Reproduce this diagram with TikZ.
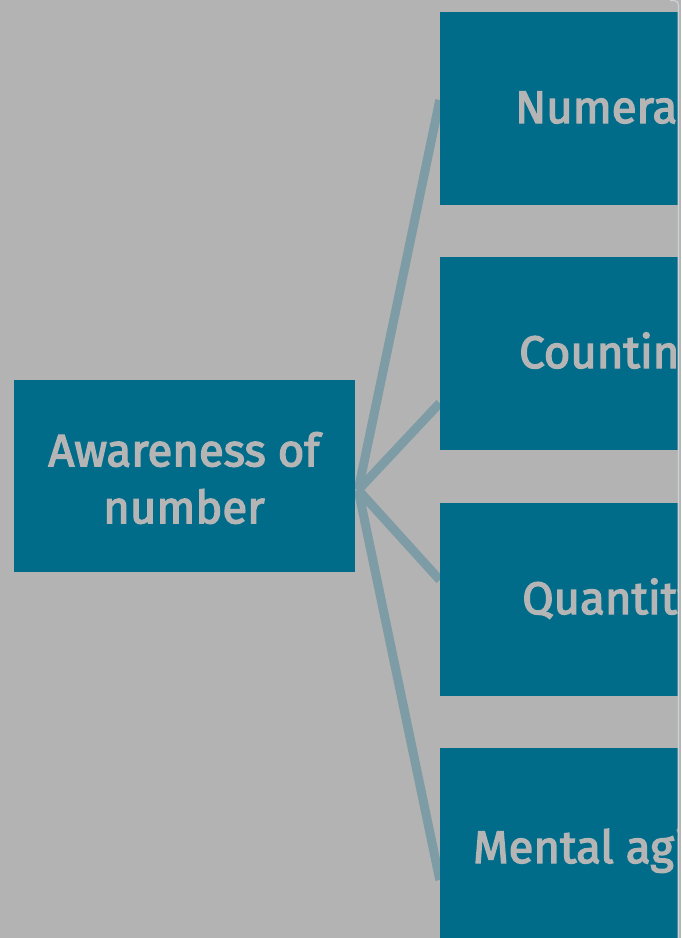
\documentclass[tikz,border=0pt]{standalone}
\usepackage{fontspec}
\setmainfont{Fira Sans}
\newfontfamily\lblfont{Fira Sans}[FakeBold=3]
\usetikzlibrary{calc}
\definecolor{bgc}{HTML}{B3B3B3}
\definecolor{boxteal}{HTML}{006C8A}
\definecolor{linkc}{HTML}{7E9CA6}
\definecolor{txtc}{HTML}{B5B5B5}
\definecolor{edgec}{HTML}{CCD3D6}
\pgfdeclarelayer{back}
\pgfdeclarelayer{lines}
\pgfsetlayers{back,lines,main}
\begin{document}
\begin{tikzpicture}[x=1pt,y=-1pt,
  box/.style={fill=boxteal, draw=none, inner sep=0pt, minimum width=360pt, minimum height=193pt},
  lbl/.style={text=txtc, font=\lblfont\fontsize{45.5}{57}\selectfont, inner sep=0pt},
  link/.style={draw=linkc, line width=9pt}]
\useasboundingbox (0,0) rectangle (681,938);
\begin{pgfonlayer}{back}
\fill[bgc] (0,0) rectangle (681,938);
\end{pgfonlayer}
\begin{scope}
\clip (0,0) rectangle (677.5,938);
\node[box, minimum width=341pt, minimum height=192pt] (root) at (184.5,476) {};
\node[box] (b1) at (620,108.5) {};
\node[box] (b2) at (620,353) {};
\node[box] (b3) at (620,599) {};
\node[box, minimum height=198pt] (b4) at (620,847) {};
\node[lbl, align=center] (rootlbl) at (184,478) {Awareness of\\number};
\node[lbl, anchor=base west] (l1) at (515,123) {Numeracy};
\node[lbl, anchor=base west] (l2) at (519,368) {Counting};
\node[lbl, anchor=base west] (l3) at (522,614) {Quantity};
\node[lbl, anchor=base west] (l4) at (473,863) {Mental agility};
\end{scope}
\coordinate (hub) at ($(root.east)+(3,14)$);
\begin{pgfonlayer}{lines}
\draw[link] (hub) -- ($(b1.west)+(0,-8.5)$);
\draw[link] (hub) -- ($(b2.west)+(0,50)$);
\draw[link] (hub) -- ($(b3.west)+(0,-19)$);
\draw[link] (hub) -- ($(b4.west)+(0,33)$);
\end{pgfonlayer}
\draw[edgec, line width=1.2pt, rounded corners=4pt] (670,0.6) -- (678.4,0.6) -- (678.4,938);
\end{tikzpicture}
\end{document}
